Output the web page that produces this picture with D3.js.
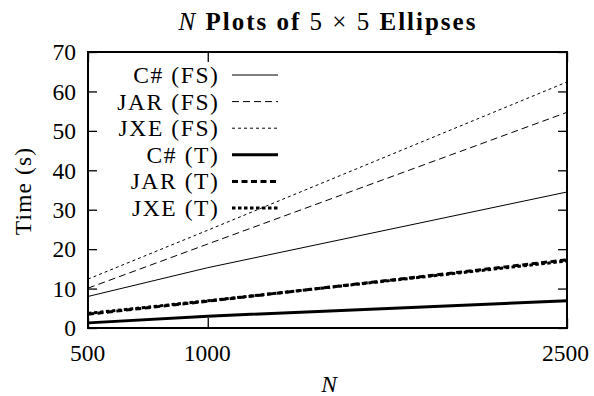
<!DOCTYPE html>
<html><head><meta charset="utf-8">
<script src="https://cdn.jsdelivr.net/npm/d3@7"></script>
<style>body{margin:0;background:#fff}svg{display:block}</style>
</head><body>
<script>
const nValues = [500, 1000, 2500];
const seriesNames = ["C# (FS)", "JAR (FS)", "JXE (FS)", "C# (T)", "JAR (T)", "JXE (T)"];
const csFS = [8.0, 15.3, 34.5];
const jarFS = [10.1, 21.3, 54.7];
const jxeFS = [12.4, 24.8, 62.4];
const csT = [1.3, 3.0, 6.9];
const jarT = [3.5, 6.8, 17.3];
const jxeT = [3.7, 6.9, 17.0];
const seriesValues = [csFS, jarFS, jxeFS, csT, jarT, jxeT];
const xTicks = [500, 1000, 2500];
const yTicks = [0, 10, 20, 30, 40, 50, 60, 70];

(function () {
const W = 594, H = 396;
const FONT = "'Liberation Serif'";
const m = {l: 88, r: 27, t: 52, b: 68};
const svg = d3.select("body").append("svg").attr("width", W).attr("height", H);
const x = d3.scaleLinear().domain([500, 2500]).range([m.l, W - m.r]);
const y = d3.scaleLinear().domain([0, 70]).range([H - m.b, m.t]);

const styles = [
  {w: 1, d: null}, {w: 1, d: "7,4"}, {w: 1, d: "3,3"},
  {w: 3, d: null}, {w: 3, d: "6,3.5"}, {w: 3, d: "3.5,2.5"}
];

const line = d3.line().x((d, i) => x(nValues[i])).y(d => y(d));
seriesValues.forEach((vals, k) => {
  svg.append("path").attr("d", line(vals)).attr("fill", "none")
    .attr("stroke", "#000").attr("stroke-width", styles[k].w)
    .attr("stroke-dasharray", styles[k].d);
});

const gBottom = svg.append("g").attr("transform", `translate(0,${H - m.b})`)
  .call(d3.axisBottom(x).tickValues(xTicks).tickFormat(d3.format("d")).tickSize(-10));
const gTop = svg.append("g").attr("transform", `translate(0,${m.t})`)
  .call(d3.axisTop(x).tickValues(xTicks).tickFormat("").tickSize(-10));
const gLeft = svg.append("g").attr("transform", `translate(${m.l},0)`)
  .call(d3.axisLeft(y).tickValues(yTicks).tickSize(-9).tickPadding(12));
const gRight = svg.append("g").attr("transform", `translate(${W - m.r},0)`)
  .call(d3.axisRight(y).tickValues(yTicks).tickFormat("").tickSize(-9));
[gBottom, gTop, gLeft, gRight].forEach(g => {
  g.attr("font-family", null).attr("font-size", null);
  g.select(".domain").remove();
  g.selectAll("line").attr("stroke", "#000").attr("stroke-width", 1.3);
  g.selectAll("text").style("font-family", FONT).style("font-size", "23.5px").attr("fill", "#000");
});
gBottom.selectAll("text").attr("y", 33).attr("dy", 0)
  .attr("dx", d => d === 2500 ? -2 : -1);
gLeft.selectAll("text").attr("dy", "0.33em");

svg.append("rect").attr("x", m.l).attr("y", m.t).attr("width", W - m.r - m.l).attr("height", H - m.b - m.t)
  .attr("fill", "none").attr("stroke", "#000").attr("stroke-width", 2);

const title = svg.append("text").attr("x", 328).attr("y", 30).attr("text-anchor", "middle")
  .style("font-family", FONT).style("font-size", "25px").style("letter-spacing", "2px");
title.append("tspan").attr("font-style", "italic").text("N");
title.append("tspan").attr("font-weight", "bold").text(" Plots of ");
title.append("tspan").text("5 × 5");
title.append("tspan").attr("font-weight", "bold").text(" Ellipses");

svg.append("text").attr("x", 329).attr("y", 392).attr("text-anchor", "middle")
  .style("font-family", FONT).style("font-size", "23.5px").attr("font-style", "italic").text("N");
svg.append("text").attr("transform", `translate(31,${(m.t + H - m.b) / 2 + 1}) rotate(-90)`)
  .attr("text-anchor", "middle").style("font-family", FONT).style("font-size", "23.5px")
  .style("letter-spacing", "1.1px").text("Time (s)");

const lg = svg.append("g");
seriesNames.forEach((name, k) => {
  const yy = 75 + k * 26.6;
  lg.append("text").attr("x", 219.5).attr("y", yy + 8).attr("text-anchor", "end")
    .style("font-family", FONT).style("font-size", "23.5px").style("letter-spacing", "1.6px").text(name);
  lg.append("line").attr("x1", 232).attr("x2", 278).attr("y1", yy).attr("y2", yy)
    .attr("stroke", "#000").attr("stroke-width", styles[k].w).attr("stroke-dasharray", styles[k].d);
});
})();
</script>
</body></html>
